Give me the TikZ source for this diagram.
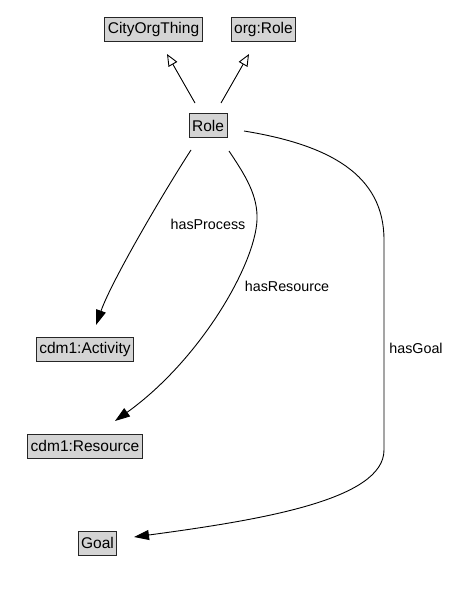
\documentclass[tikz,border=0pt]{standalone}
\usepackage{fontspec}
\setmainfont{Liberation Sans}
\usetikzlibrary{arrows.meta}
\begin{document}
\begin{tikzpicture}[x=1pt,y=-1pt,
  cls/.style={draw=black!85,fill=black!17,line width=0.8pt,inner xsep=3pt,inner ysep=0pt,minimum height=24pt,font=\fontsize{15.5}{17}\selectfont},
  lbl/.style={font=\fontsize{14.3}{16}\selectfont,inner sep=1pt},
  isa/.style={line width=0.9pt,-{Triangle[open,length=12pt,width=10pt]}},
  rel/.style={line width=0.9pt,-{Triangle[length=15pt,width=10pt]}}]
\useasboundingbox (0,0) rectangle (454,594);
\node[cls] (city) at (153.5,29.5) {CityOrgThing};
\node[cls] (orgrole) at (263.5,29.5) {org:Role};
\node[cls] (role) at (208,125.5) {Role};
\node[cls] (act) at (85,349) {cdm1:Activity};
\node[cls] (res) at (85,446) {cdm1:Resource};
\node[cls] (goal) at (97.5,543) {Goal};
% connector end points
\coordinate (i1s) at (195,103);
\coordinate (i1e) at (167,54);
\coordinate (i2s) at (221,103);
\coordinate (i2e) at (249,54);
\coordinate (ps) at (191,150);
\coordinate (pe) at (96,325);
\coordinate (rs) at (229,151);
\coordinate (rm) at (257,220);
\coordinate (re) at (115,421);
\coordinate (gs) at (244,131);
\coordinate (ga) at (384,240);
\coordinate (gb) at (384,450);
\coordinate (ge) at (134,537);
\draw[isa] (i1s) -- (i1e);
\draw[isa] (i2s) -- (i2e);
\draw[rel] (ps) .. controls (165,190) and (112,280) .. (pe);
\draw[rel] (rs) .. controls (245,175) and (258,195) .. (rm) .. controls (255,265) and (200,360) .. (re);
\draw[rel] (gs) .. controls (330,145) and (384,175) .. (ga) -- (gb) .. controls (384,500) and (260,520) .. (ge);
\node[lbl] (lp) at (208,224) {hasProcess};
\node[lbl] (lr) at (287,286) {hasResource};
\node[lbl] (lg) at (416,348) {hasGoal};
\end{tikzpicture}
\end{document}
